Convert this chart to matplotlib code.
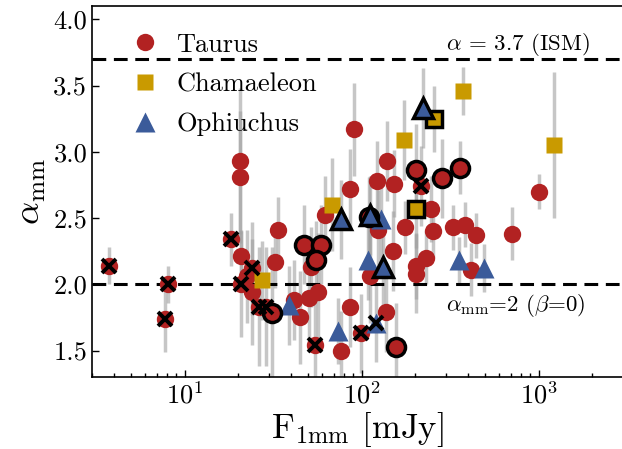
import matplotlib
matplotlib.use("Agg")
import matplotlib.pyplot as plt
from matplotlib.lines import Line2D

plt.rcParams.update({
    "font.family": "serif",
    "font.serif": ["cmr10"],
    "mathtext.fontset": "cm",
    "axes.formatter.use_mathtext": True,
    "axes.unicode_minus": False,
})

# Taurus: flux [mJy], spectral index, error, flag ('' plain, 'o' outlined, 'x' crossed)
tau_flux = [20.7, 20.7, 20.9, 22.4, 24.2, 33.7, 32.5, 41.8, 44.7, 50.8, 56.6, 51.5,
            61.8, 85.5, 90.2, 139, 122, 152, 175, 124, 248, 253, 328, 382, 441, 710,
            1004, 417, 150, 204, 232, 204, 111, 85.5, 76.1, 137,
            3.72, 8.05, 7.71, 18.4, 24.1, 20.9, 26.5, 28.7, 54.3, 99.6, 217,
            31.3, 47.6, 59.2, 55.5, 110, 202, 286, 360, 157]
tau_alpha = [2.93, 2.81, 2.21, 2.06, 1.94, 2.41, 2.17, 1.88, 1.75, 1.90, 1.94, 2.13,
             2.52, 2.72, 3.17, 2.93, 2.78, 2.76, 2.43, 2.41, 2.57, 2.40, 2.43, 2.45, 2.37, 2.38,
             2.70, 2.11, 2.25, 2.14, 2.20, 2.08, 2.06, 1.83, 1.50, 1.79,
             2.14, 2.00, 1.74, 2.34, 2.12, 2.00, 1.83, 1.83, 1.54, 1.63, 2.74,
             1.78, 2.30, 2.30, 2.18, 2.51, 2.86, 2.80, 2.88, 1.53]
tau_err = [0.55, 0.50, 0.20, 0.35, 0.40, 0.25, 0.20, 0.30, 0.35, 0.40, 0.45, 0.30,
           0.30, 0.30, 0.35, 0.30, 0.30, 0.25, 0.20, 0.30, 0.25, 0.20, 0.17, 0.17, 0.17, 0.20,
           0.13, 0.20, 0.30, 0.25, 0.20, 0.30, 0.35, 0.30, 0.30, 0.30,
           0.14, 0.14, 0.25, 0.20, 0.35, 0.40, 0.45, 0.45, 0.40, 0.30, 0.30,
           0.50, 0.30, 0.30, 0.30, 0.30, 0.35, 0.30, 0.20, 0.33]
tau_flag = [""] * 36 + ["x"] * 11 + ["o"] * 9

cha_flux = [27.5, 67.9, 173, 373, 1216, 258, 204]
cha_alpha = [2.03, 2.60, 3.09, 3.46, 3.05, 3.25, 2.57]
cha_err = [0.30, 0.35, 0.30, 0.18, 0.55, 0.25, 0.30]
cha_flag = ["", "", "", "", "", "o", "o"]

oph_flux = [38.7, 129, 109, 353, 489, 73.5, 121, 76.1, 112, 133, 222]
oph_alpha = [1.84, 2.49, 2.18, 2.18, 2.12, 1.65, 1.71, 2.49, 2.52, 2.13, 3.33]
oph_err = [0.30, 0.30, 0.30, 0.18, 0.18, 0.25, 0.30, 0.30, 0.30, 0.30, 0.30]
oph_flag = ["", "", "", "", "", "", "x", "o", "o", "o", "o"]

groups = [
    ("Taurus", "o", 12.5, "#B22222", tau_flux, tau_alpha, tau_err, tau_flag),
    ("Chamaeleon", "s", 11.5, "#C99A00", cha_flux, cha_alpha, cha_err, cha_flag),
    ("Ophiuchus", "^", 14, "#3B5B9A", oph_flux, oph_alpha, oph_err, oph_flag),
]

fig = plt.figure(figsize=(6.22, 4.49), dpi=100)
ax = fig.add_axes([92 / 622, 1 - 377 / 449, (623 - 92) / 622, (377 - 6) / 449])

for name, mk, ms, col, fx, al, er, fl in groups:
    ax.errorbar(fx, al, yerr=er, fmt="none", ecolor="#a0a0a0", alpha=0.6,
                elinewidth=2.5, capsize=0, zorder=1)
for name, mk, ms, col, fx, al, er, fl in groups:
    for f, a, g in zip(fx, al, fl):
        if g == "o":
            ax.plot(f, a, mk, ms=ms + 0.5, color=col, mec="black", mew=2.5, zorder=4)
        else:
            ax.plot(f, a, mk, ms=ms, color=col, mec="none", zorder=3)
        if g == "x":
            ax.plot(f, a, "x", ms=9.5, color="black", mew=2.8, zorder=5)

ax.axhline(3.7, color="black", ls=(0, (4.5, 2.5)), lw=2.2, zorder=2)
ax.axhline(2.0, color="black", ls=(0, (4.5, 2.5)), lw=2.2, zorder=2)
ax.text(300, 3.81, r"$\alpha$ = 3.7 (ISM)", fontsize=16.5, ha="left", va="center")
ax.text(300, 1.84, r"$\alpha_{\rm mm}$=2 ($\beta$=0)", fontsize=16.5, ha="left", va="center")

ax.set_xscale("log")
ax.set_xlim(3, 3000)
ax.set_ylim(1.3, 4.1)
ax.set_yticks([1.5, 2.0, 2.5, 3.0, 3.5, 4.0])
ax.set_yticklabels(["1.5", "2.0", "2.5", "3.0", "3.5", "4.0"])
ax.tick_params(which="both", direction="in", top=False, right=False, labelsize=19, width=1)
ax.tick_params(which="major", length=5)
ax.tick_params(which="minor", length=3)
for s in ax.spines.values():
    s.set_linewidth(1.2)

ax.set_xlabel(r"F$_{\rm 1mm}$ [mJy]", fontsize=25, labelpad=1)
ax.set_ylabel(r"$\alpha_{\rm mm}$", fontsize=26)

handles = [Line2D([0], [0], marker=mk, color="none", markerfacecolor=col,
                  markeredgecolor="none", markersize=ms, label=name)
           for name, mk, ms, col, *_ in groups]
ax.legend(handles=handles, loc="upper left", frameon=False, fontsize=19,
          bbox_to_anchor=(0.02, 0.97), handletextpad=0.2, labelspacing=0.6,
          borderaxespad=0.2)

fig.savefig("out.png", dpi=100)
